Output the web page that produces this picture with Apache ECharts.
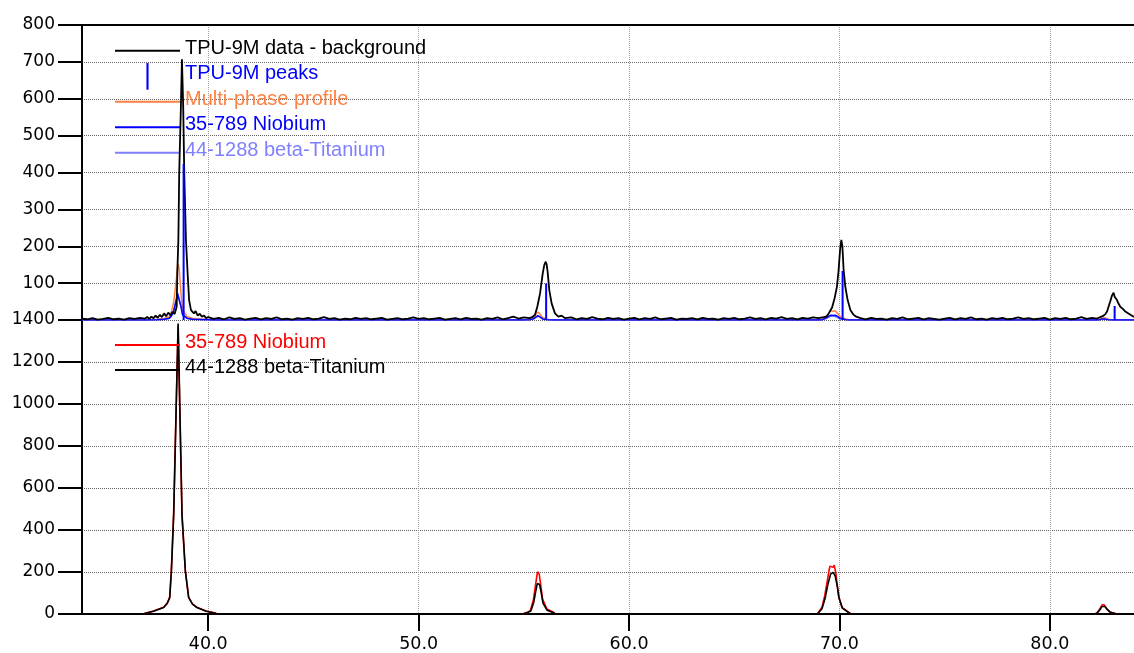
<!DOCTYPE html>
<html>
<head>
<meta charset="utf-8">
<script src="https://cdn.jsdelivr.net/npm/echarts@6/dist/echarts.min.js"></script>
<style>
  html, body { margin: 0; padding: 0; background: #fff; }
  #chart { width: 1134px; height: 653px; }
</style>
</head>
<body>
<div id="chart"></div>
<script>
// ---- axes ----
const twoThetaMin = 34;
const twoThetaMax = 84;
const twoThetaTicks = [40, 50, 60, 70, 80];
const topCountsMax = 800;
const topCountsStep = 100;
const bottomCountsMax = 1400;
const bottomCountsStep = 200;

// ---- upper panel: measured pattern (background removed), [2θ, counts] ----
const measuredData = [
  [34.00,4],[34.25,2],[34.50,5],[34.75,1],[35.00,3],[35.25,6],[35.50,2],[35.75,4],[36.00,1],[36.25,5],[36.50,3],[36.75,6],[37.00,4],
  [37.10,8],[37.20,3],[37.30,9],[37.40,5],[37.50,12],[37.60,6],[37.70,14],[37.80,8],[37.90,18],[38.00,10],[38.10,20],[38.20,13],[38.30,22],[38.40,16],[38.46,28],
  [38.50,36],[38.53,127],[38.58,217],[38.62,398],[38.70,578],[38.75,707],[38.81,578],[38.86,398],[38.94,217],[39.02,127],[39.09,54],[39.18,27],
  [39.25,32],[39.32,18],[39.40,24],[39.50,12],[39.60,17],[39.70,9],[39.80,12],[39.90,5],[40.00,8],
  [40.25,3],[40.50,6],[40.75,2],[41.00,7],[41.25,3],[41.50,5],[41.75,1],[42.00,4],[42.25,6],[42.50,2],[42.75,5],[43.00,3],[43.25,7],[43.50,2],[43.75,4],
  [44.00,1],[44.25,5],[44.50,3],[44.75,6],[45.00,2],[45.25,4],[45.50,8],[45.75,3],[46.00,5],[46.25,1],[46.50,4],[46.75,2],[47.00,6],[47.25,3],[47.50,5],
  [47.75,2],[48.00,4],[48.25,6],[48.50,1],[48.75,3],[49.00,5],[49.25,2],[49.50,4],[49.75,7],[50.00,3],[50.25,5],[50.50,2],[50.75,4],[51.00,6],[51.25,1],
  [51.50,3],[51.75,5],[52.00,2],[52.25,6],[52.50,3],[52.75,4],[53.00,1],[53.25,5],[53.50,3],[53.75,7],[54.00,2],[54.25,5],[54.50,9],[54.75,4],[55.00,7],[55.25,5],
  [55.40,8],[55.53,14],[55.64,36],[55.77,72],[55.90,127],[55.97,149],[56.04,158],[56.08,152],[56.13,131],[56.21,81],[56.32,45],[56.48,18],[56.64,9],[56.80,12],[56.95,5],
  [57.00,3],[57.25,7],[57.50,2],[57.75,5],[58.00,3],[58.25,8],[58.50,4],[58.75,2],[59.00,6],[59.25,3],[59.50,5],[59.75,1],[60.00,4],[60.25,6],[60.50,2],
  [60.75,5],[61.00,3],[61.25,7],[61.50,2],[61.75,4],[62.00,6],[62.25,1],[62.50,4],[62.75,3],[63.00,5],[63.25,2],[63.50,6],[63.75,3],[64.00,4],[64.25,1],
  [64.50,5],[64.75,3],[65.00,6],[65.25,2],[65.50,4],[65.75,7],[66.00,3],[66.25,5],[66.50,2],[66.75,6],[67.00,4],[67.25,8],[67.50,3],[67.75,5],[68.00,2],
  [68.25,6],[68.50,4],[68.75,7],[69.00,5],[69.25,8],
  [69.40,10],[69.49,18],[69.65,34],[69.77,59],[69.88,90],[69.96,135],[70.03,190],[70.09,217],[70.14,200],[70.20,135],[70.28,90],[70.39,54],[70.52,27],[70.67,14],[70.80,9],
  [71.00,5],[71.25,2],[71.50,6],[71.75,3],[72.00,4],[72.25,1],[72.50,5],[72.75,3],[73.00,7],[73.25,2],[73.50,4],[73.75,6],[74.00,2],[74.25,5],[74.50,3],
  [74.75,1],[75.00,4],[75.25,6],[75.50,2],[75.75,5],[76.00,3],[76.25,7],[76.50,2],[76.75,4],[77.00,1],[77.25,5],[77.50,3],[77.75,6],[78.00,2],[78.25,4],
  [78.50,7],[78.75,3],[79.00,5],[79.25,2],[79.50,4],[79.75,6],[80.00,1],[80.25,5],[80.50,3],[80.75,6],[81.00,2],[81.25,4],[81.50,8],[81.75,3],[82.00,6],[82.25,4],
  [82.40,8],[82.53,11],[82.64,16],[82.72,23],[82.80,38],[82.87,50],[82.95,66],[83.03,74],[83.08,63],[83.13,60],[83.19,54],[83.27,44],[83.35,36],[83.47,30],
  [83.59,23],[83.70,19],[83.83,14],[83.95,10],[84.00,8]
];

// indexed peak positions and heights
const peakSticks = [[38.83,423],[56.06,99],[70.15,133],[83.08,38]];

// fitted profiles, upper panel
const multiPhaseProfile = [
  [34.0,0],[37.0,0],[37.6,2],[37.9,4],[38.15,9],[38.25,22],[38.36,50],[38.48,108],[38.54,144],[38.57,152],[38.62,138],[38.70,75],[38.78,28],[38.99,9],[39.25,5],[39.6,3],[40.3,0],
  [55.0,0],[55.3,2],[55.45,6],[55.56,15],[55.67,22],[55.78,15],[55.89,6],[56.1,2],[56.4,0],
  [69.0,0],[69.2,3],[69.35,9],[69.48,18],[69.58,25],[69.70,24],[69.80,25],[69.92,17],[70.05,8],[70.3,3],[70.5,0],
  [82.2,0],[82.35,2],[82.48,5],[82.58,6],[82.70,4],[82.85,1],[83.1,0],[84.0,0]
];
const niobiumTop = [
  [34.0,0],[37.0,0],[37.6,1],[37.9,2],[38.15,5],[38.25,11],[38.36,25],[38.48,54],[38.54,71],[38.57,75],[38.62,68],[38.70,37],[38.78,14],[38.99,5],[39.25,2],[40.3,0],
  [55.0,0],[55.3,1],[55.45,3],[55.56,8],[55.67,12],[55.78,8],[55.89,3],[56.1,1],[56.4,0],
  [69.0,0],[69.2,1],[69.35,5],[69.48,10],[69.58,13],[69.70,12],[69.80,13],[69.92,9],[70.05,4],[70.3,1],[70.5,0],
  [82.2,0],[82.38,1],[82.50,3],[82.60,3],[82.75,1],[83.1,0],[84.0,0]
];
const betaTitaniumTop = [
  [34.0,0],[37.0,0],[37.6,1],[37.9,2],[38.15,4],[38.25,11],[38.36,26],[38.48,55],[38.54,74],[38.58,78],[38.63,69],[38.71,37],[38.79,14],[39.0,4],[39.25,2],[40.3,0],
  [55.0,0],[55.3,1],[55.47,3],[55.58,7],[55.69,10],[55.80,7],[55.91,3],[56.1,1],[56.4,0],
  [69.0,0],[69.2,1],[69.37,4],[69.50,8],[69.62,11],[69.74,11],[69.86,8],[70.0,4],[70.3,1],[70.5,0],
  [82.2,0],[82.40,1],[82.52,2],[82.64,2],[82.80,1],[83.1,0],[84.0,0]
];

// phase profiles, lower panel — one segment per reflection, '-' separates them
const niobiumBottom = [
  [36.90,0],[36.93,5],[37.40,14],[37.88,32],[38.05,52],[38.165,79],[38.244,206],[38.355,475],[38.565,1372],[38.75,475],[38.83,340],[38.91,206],[39.07,79],[39.25,48],[39.46,32],[39.90,14],[40.34,5],[40.40,0],
  ['-','-'],
  [54.95,0],[55.00,4],[55.20,10],[55.31,16],[55.46,71],[55.55,134],[55.63,190],[55.67,201],[55.73,190],[55.81,134],[55.89,71],[56.10,24],[56.41,8],[56.50,0],
  ['-','-'],
  [68.95,0],[69.01,4],[69.17,32],[69.30,87],[69.41,150],[69.52,215],[69.55,228],[69.58,233],[69.64,222],[69.70,222],[69.75,233],[69.78,226],[69.83,195],[69.88,150],[69.96,87],[70.12,32],[70.44,8],[70.55,0],
  ['-','-'],
  [82.15,0],[82.25,6],[82.38,25],[82.48,44],[82.53,47],[82.58,44],[82.68,28],[82.85,10],[83.10,2],[83.15,0]
];
const betaTitaniumBottom = [
  [36.88,0],[36.93,4],[37.40,13],[37.88,31],[38.05,50],[38.17,78],[38.25,205],[38.36,478],[38.57,1383],[38.755,470],[38.835,335],[38.915,202],[39.07,78],[39.25,47],[39.46,31],[39.90,13],[40.34,4],[40.42,0],
  ['-','-'],
  [54.95,0],[55.00,3],[55.20,8],[55.33,14],[55.47,55],[55.56,105],[55.64,145],[55.69,151],[55.75,140],[55.83,100],[55.91,52],[56.10,18],[56.41,6],[56.50,0],
  ['-','-'],
  [68.95,0],[69.01,3],[69.17,25],[69.32,75],[69.45,140],[69.58,190],[69.70,198],[69.80,180],[69.90,130],[69.98,75],[70.14,28],[70.45,6],[70.55,0],
  ['-','-'],
  [82.15,0],[82.25,5],[82.38,20],[82.48,36],[82.55,40],[82.62,36],[82.72,22],[82.88,8],[83.10,2],[83.15,0]
];

// ---- styling ----
const axisFont = 'DejaVu Sans';
const legendFont = 'Liberation Sans';
const colors = {
  data: '#000000', sticks: '#0000ff', profile: '#ff8040',
  nbTop: '#0000ff', tiTop: '#8080ff', nbBottom: '#ff0000', tiBottom: '#000000'
};
// legend glyphs: an empty move-to on top keeps the visible stroke a little below the label's middle
const lineIcon = 'path://M0,0H65M0,5H65V7H0Z';
const stickIcon = 'path://M0,0V0M0,5H2V30H0Z';

const chart = echarts.init(document.getElementById('chart'), null, { renderer: 'canvas' });

function lineSeries(name, data, color, xi, yi, z, width) {
  return {
    name, type: 'line', data, xAxisIndex: xi, yAxisIndex: yi,
    symbol: 'none', color, z, connectNulls: false,
    lineStyle: { color, width: width || 1.5 },
    emphasis: { disabled: true }, silent: true
  };
}

const hSplit = { show: true, lineStyle: { color: '#606060', type: [1, 1], width: 1 } };
const vSplit = { show: true, lineStyle: { color: '#a0a0a0', type: [1, 1], width: 1 } };
const axisLineStyle = { show: true, onZero: false, lineStyle: { color: '#000', width: 2 } };

function legendBlock(top, gap, items) {
  return {
    left: 115, top, orient: 'vertical', padding: 0, itemGap: gap,
    itemWidth: 65, itemHeight: 32, selectedMode: false,
    itemStyle: { borderWidth: 0 },
    textStyle: { fontFamily: legendFont, fontSize: 20, lineHeight: 32 },
    data: items
  };
}

const option = {
  animation: false,
  backgroundColor: '#fff',
  grid: [
    { left: 82, top: 25, width: 1052, height: 295 },
    { left: 82, top: 320, width: 1052, height: 295 }
  ],
  xAxis: [
    {
      type: 'value', gridIndex: 0, position: 'top', min: twoThetaMin, max: twoThetaMax,
      axisLine: axisLineStyle,
      axisTick: { show: false, customValues: twoThetaTicks },
      axisLabel: { show: false, customValues: twoThetaTicks },
      splitLine: vSplit
    },
    {
      type: 'value', gridIndex: 1, position: 'bottom', min: twoThetaMin, max: twoThetaMax,
      axisLine: axisLineStyle,
      axisTick: { show: true, length: 17, lineStyle: { color: '#000', width: 2 }, customValues: twoThetaTicks },
      axisLabel: {
        customValues: twoThetaTicks, margin: 21, color: '#000',
        fontFamily: axisFont, fontSize: 17.5,
        formatter: v => Number(v).toFixed(1)
      },
      splitLine: vSplit
    }
  ],
  yAxis: [
    {
      type: 'value', gridIndex: 0, min: 0, max: topCountsMax, interval: topCountsStep,
      axisLine: axisLineStyle,
      axisTick: { show: true, length: 24, lineStyle: { color: '#000', width: 2 } },
      axisLabel: {
        margin: 27, color: '#000', fontFamily: axisFont, fontSize: 17,
        formatter: v => (v === 0 ? '' : String(v))
      },
      splitLine: hSplit
    },
    {
      type: 'value', gridIndex: 1, min: 0, max: bottomCountsMax, interval: bottomCountsStep,
      axisLine: axisLineStyle,
      axisTick: { show: true, length: 24, lineStyle: { color: '#000', width: 2 } },
      axisLabel: {
        margin: 27, color: '#000', fontFamily: axisFont, fontSize: 17,
        formatter: v => String(v)
      },
      splitLine: hSplit
    }
  ],
  legend: [
    legendBlock(32.2, -6.5, [
      { name: 'TPU-9M data - background', icon: lineIcon, textStyle: { color: colors.data } },
      { name: 'TPU-9M peaks', icon: stickIcon, textStyle: { color: colors.sticks } },
      { name: 'Multi-phase profile', icon: lineIcon, textStyle: { color: colors.profile } },
      { name: '35-789 Niobium', icon: lineIcon, textStyle: { color: colors.nbTop } },
      { name: '44-1288 beta-Titanium', icon: lineIcon, textStyle: { color: colors.tiTop } }
    ]),
    legendBlock(326.5, -7, [
      { name: '35-789 Niobium ', icon: lineIcon, textStyle: { color: colors.nbBottom } },
      { name: '44-1288 beta-Titanium ', icon: lineIcon, textStyle: { color: colors.tiBottom } }
    ])
  ],
  series: [
    lineSeries('Multi-phase profile', multiPhaseProfile, colors.profile, 0, 0, 2),
    lineSeries('44-1288 beta-Titanium', betaTitaniumTop, colors.tiTop, 0, 0, 3),
    lineSeries('35-789 Niobium', niobiumTop, colors.nbTop, 0, 0, 4),
    lineSeries('TPU-9M data - background', measuredData, colors.data, 0, 0, 5, 1.8),
    {
      name: 'TPU-9M peaks', type: 'bar', data: peakSticks, xAxisIndex: 0, yAxisIndex: 0,
      barWidth: 2, color: colors.sticks, itemStyle: { color: colors.sticks }, z: 6,
      silent: true, emphasis: { disabled: true }
    },
    lineSeries('35-789 Niobium ', niobiumBottom, colors.nbBottom, 1, 1, 2, 1.6),
    lineSeries('44-1288 beta-Titanium ', betaTitaniumBottom, colors.tiBottom, 1, 1, 3, 1.6)
  ]
};

chart.setOption(option);
</script>
</body>
</html>
